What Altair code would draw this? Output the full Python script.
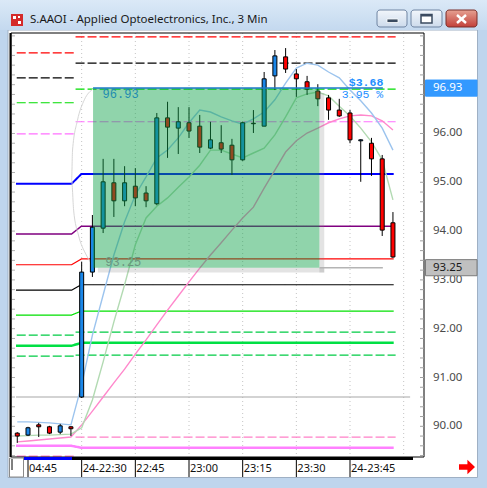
import altair as alt
import pandas as pd

# ---------------- price bars (3-minute, bar index 0..35) ----------------
bar_open = [89.86, 89.82, 90.03, 89.99, 89.88, 89.99,
            90.60, 93.16, 94.06, 94.99, 94.62, 94.92, 94.78, 94.56, 96.32, 96.11,
            96.22, 96.15, 95.70, 95.81, 95.76, 95.46, 96.21, 96.15, 97.18, 97.57,
            97.22, 97.06, 96.87, 96.73, 96.48, 96.42, 95.85, 95.80, 95.48, 94.17]
bar_high = [89.88, 89.99, 90.07, 90.01, 90.05, 90.00,
            93.37, 94.33, 95.48, 95.48, 95.33, 95.29, 94.92, 96.42, 96.65, 96.54,
            96.54, 96.38, 96.24, 96.17, 95.89, 96.24, 96.48, 97.26, 97.71, 97.75,
            97.32, 97.18, 97.01, 96.79, 96.71, 96.48, 95.88, 95.91, 95.56, 94.39]
bar_low = [89.66, 89.80, 89.78, 89.84, 89.84, 89.80,
           90.58, 93.06, 93.96, 94.29, 94.51, 94.51, 94.49, 94.53, 95.50, 95.58,
           95.91, 95.60, 95.68, 95.60, 95.15, 95.44, 96.01, 96.15, 96.89, 97.24,
           96.75, 96.79, 96.56, 96.28, 96.34, 95.80, 95.01, 95.13, 93.90, 93.45]
bar_close = [89.80, 89.97, 89.99, 89.86, 90.01, 89.95,
             93.16, 94.08, 95.01, 94.62, 94.99, 94.68, 94.62, 96.32, 96.13, 96.24,
             96.05, 95.72, 95.87, 95.68, 95.46, 96.22, 96.20, 97.12, 97.59, 97.32,
             97.12, 96.91, 96.71, 96.48, 96.36, 95.87, 95.87, 95.48, 94.02, 93.47]

# moving averages
ma_fast = [90.09, 90.09, 90.08, 90.07, 90.05, 90.03,
           90.85, 91.87, 92.69, 93.51, 94.19, 94.74, 95.11, 95.50, 95.66, 95.91,
           96.22, 96.48, 96.44, 96.34, 96.26, 96.19, 96.30, 96.44, 96.69, 97.03,
           97.34, 97.44, 97.40, 97.26, 97.14, 96.89, 96.67, 96.42, 96.11, 95.66]
ma_mid = [89.80, 89.81, 89.82, 89.82, 89.83, 89.84,
          89.97, 90.54, 91.32, 92.14, 92.90, 93.72, 94.27, 94.51, 94.68, 94.90,
          95.11, 95.35, 95.66, 95.66, 95.58, 95.50, 95.60, 95.70, 95.97, 96.34,
          96.73, 96.81, 96.85, 96.77, 96.56, 96.36, 96.11, 95.83, 95.46, 94.64]
ma_slow = [89.68, 89.70, 89.72, 89.74, 89.76, 89.78,
           90.03, 90.31, 90.60, 90.89, 91.17, 91.48, 91.77, 92.08, 92.38, 92.67,
           92.96, 93.24, 93.51, 93.76, 94.02, 94.27, 94.49, 94.88, 95.25, 95.62,
           95.85, 96.01, 96.11, 96.22, 96.30, 96.36, 96.38, 96.36, 96.26, 96.07]

# curved guide left of the measured range
arc_x = [7.06, 6.25, 5.61, 5.15, 5.06, 5.25, 5.70, 6.43, 7.25]
arc_p = [96.91, 96.69, 96.27, 95.66, 95.05, 94.43, 93.92, 93.51, 93.24]

# level lines: previous-session value, current-session value
level_name = ["red_d", "black_d", "green_d", "magenta_d", "blue", "purple", "red",
              "black", "lime", "green_d2", "green_thick", "green_d3", "gray",
              "pink_d", "magenta_thick"]
level_prev = [97.65, 97.14, 96.63, 95.99, 94.97, 93.94, 93.31,
              92.79, 92.28, 91.87, 91.65, 91.44, 90.60, 89.39, 89.60]
level_curr = [97.98, 97.44, 96.91, 96.24, 95.17, 94.10, 93.43,
              92.90, 92.36, 91.93, 91.71, 91.46, 90.60, 89.78, 89.56]
level_color = ["#ff0000", "#000000", "#00dd00", "#ff70ff", "#0000ff", "#800080", "#ff0000",
               "#000000", "#00e000", "#00cc44", "#00e044", "#00cc44", "#a8a8a8",
               "#ff80c8", "#ff80ff"]
level_width = [1.2, 1.2, 1.2, 1.2, 2.0, 1.5, 1.2, 1.2, 1.2, 1.2, 2.5, 1.2, 1.2, 1.2, 2.5]
level_style = ["dash", "dash", "dash", "dash", "solid", "solid", "solid",
               "solid", "solid", "dash", "solid", "dash", "flat", "dash", "solid"]

# measured range
range_top, range_bottom = 96.93, 93.25
range_from, range_to = 7.06, 28.15
range_line_end = 34.06

# axes
time_idx = [1, 6, 11, 16, 21, 26, 31]
time_text = ["04:45", "24-22:30", "22:45", "23:00", "23:15", "23:30", "24-23:45"]
grid_idx = [6, 11, 16, 21, 26, 31, 36]
price_ticks = [90, 91, 92, 93, 94, 95, 96]

TITLE = "S.AAOI - Applied Optoelectronics, Inc., 3 Min"
UP, DOWN = "#1a86e8", "#ff0000"
FONT = "Noto Sans"
MONO = "Liberation Mono"

# ---------------- geometry helpers ----------------
PX0, PY0 = 11, 33          # plot origin on the page
W, H = 413, 424
X = alt.Scale(domain=[-0.118, 37.427], nice=False, zero=False)
Y = alt.Scale(domain=[89.371, 98.059], nice=False, zero=False)
one = pd.DataFrame({"k": [0]})


def box(x0, y0, x1, y1, **kw):
    return alt.Chart(one).mark_rect(**kw).encode(
        x=alt.value(x0 - PX0), x2=alt.value(x1 - PX0),
        y=alt.value(y0 - PY0), y2=alt.value(y1 - PY0))


def seg(x0, y0, x1, y1, **kw):
    return alt.Chart(one).mark_rule(**kw).encode(
        x=alt.value(x0 - PX0), x2=alt.value(x1 - PX0),
        y=alt.value(y0 - PY0), y2=alt.value(y1 - PY0))


def label(x, y, s, **kw):
    return alt.Chart(one).mark_text(text=s, **kw).encode(
        x=alt.value(x - PX0), y=alt.value(y - PY0))


def price_text(xi, p, s, **kw):
    """Text anchored at a bar position and a price."""
    d = pd.DataFrame({"x": [xi], "p": [p], "t": [s]})
    return alt.Chart(d).mark_text(baseline="middle", **kw).encode(
        x=alt.X("x:Q", scale=X, axis=None), y=alt.Y("p:Q", scale=Y, axis=None), text="t:N")


def price_tag(p, fill, stroke, txt_color):
    d = pd.DataFrame({"lo": [p - 0.165], "hi": [p + 0.165], "p": [p], "t": [f"{p:.2f}"]})
    tag = alt.Chart(d).mark_rect(fill=fill, stroke=stroke, strokeWidth=1).encode(
        x=alt.value(425.5 - PX0), x2=alt.value(477 - PX0),
        y=alt.Y("lo:Q", scale=Y, axis=None), y2="hi:Q")
    txt = alt.Chart(d).mark_text(font=FONT, fontSize=11.5, align="left", baseline="middle",
                                 color=txt_color).encode(
        x=alt.value(433 - PX0), y=alt.Y("p:Q", scale=Y, axis=None), text="t:N")
    return [tag, txt]


def grad(c0, c1):
    return alt.LinearGradient(gradient="linear", x1=0, x2=0, y1=0, y2=1,
                              stops=[alt.GradientStop(color=c0, offset=0),
                                     alt.GradientStop(color=c1, offset=1)])


layers = []

# white client area
layers.append(box(8, 30, 477.5, 477.5, fill="white", stroke="#9fb0c4", strokeWidth=1))

# vertical dotted grid
grid_df = pd.DataFrame({"g": grid_idx})
layers.append(alt.Chart(grid_df).mark_rule(color="#c4c4c4", strokeDash=[1, 3]).encode(
    x=alt.X("g:Q", scale=X, axis=None), y=alt.value(0), y2=alt.value(H)))

# level lines
for name, lp, lc, col, wd, st in zip(level_name, level_prev, level_curr,
                                     level_color, level_width, level_style):
    if st == "solid":
        rows = [(0, -0.118, lp), (0, 5.06, lp), (0, 5.97, lc), (0, 35.07, lc)]
        dash = [1, 0]
    elif st == "dash":
        rows = [(0, -0.05, lp), (0, 5.34, lp), (1, 5.43, lc), (1, 35.25, lc)]
        dash = [9, 3]
    else:
        rows = [(0, -0.118, lp), (0, 36.6, lc)]
        dash = [1, 0]
    d = pd.DataFrame(rows, columns=["seg", "x", "p"])
    layers.append(alt.Chart(d).mark_line(color=col, strokeWidth=wd, strokeDash=dash).encode(
        x=alt.X("x:Q", scale=X, axis=None),
        y=alt.Y("p:Q", scale=Y, axis=None),
        detail="seg:N"))

# curved guide
arc_df = pd.DataFrame({"x": arc_x, "p": arc_p, "o": list(range(len(arc_x)))})
layers.append(alt.Chart(arc_df).mark_line(color="#d6d6d6", strokeWidth=1, interpolate="monotone").encode(
    x=alt.X("x:Q", scale=X, axis=None), y=alt.Y("p:Q", scale=Y, axis=None), order="o:Q"))

# moving averages
idx = list(range(len(bar_open)))
for vals, col in [(ma_slow, "#ff88cc"), (ma_mid, "#b2dab2"), (ma_fast, "#9cc4ee")]:
    d = pd.DataFrame({"i": idx, "p": vals})
    layers.append(alt.Chart(d).mark_line(color=col, strokeWidth=1.4).encode(
        x=alt.X("i:Q", scale=X, axis=None), y=alt.Y("p:Q", scale=Y, axis=None)))

# candles
bars = pd.DataFrame({"i": idx, "o": bar_open, "h": bar_high, "l": bar_low, "c": bar_close})
layers.append(alt.Chart(bars).mark_rule(color="black", strokeWidth=1).encode(
    x=alt.X("i:Q", scale=X, axis=None), y=alt.Y("l:Q", scale=Y, axis=None), y2="h:Q"))
layers.append(alt.Chart(bars).mark_bar(size=4, stroke="black", strokeWidth=1).encode(
    x=alt.X("i:Q", scale=X, axis=None), y=alt.Y("o:Q", scale=Y, axis=None), y2="c:Q",
    fill=alt.condition("datum.c >= datum.o", alt.value(UP), alt.value(DOWN))))

# measured range: soft shadow, translucent fill, edge lines and labels
shadow = pd.DataFrame({"x0": [range_to, range_from + 0.45], "x1": [range_to + 0.45, range_to + 0.45],
                       "y0": [range_bottom - 0.1, range_bottom - 0.1],
                       "y1": [range_top - 0.1, range_bottom]})
layers.append(alt.Chart(shadow).mark_rect(color="#808080", opacity=0.22).encode(
    x=alt.X("x0:Q", scale=X, axis=None), x2="x1:Q",
    y=alt.Y("y0:Q", scale=Y, axis=None), y2="y1:Q"))
rng = pd.DataFrame({"x0": [range_from], "x1": [range_to], "y0": [range_bottom], "y1": [range_top]})
layers.append(alt.Chart(rng).mark_rect(color="#0da148", opacity=0.46).encode(
    x=alt.X("x0:Q", scale=X, axis=None), x2="x1:Q",
    y=alt.Y("y0:Q", scale=Y, axis=None), y2="y1:Q"))
for x0, p, col in [(range_from, range_top, "#1e7ac8"), (range_to, range_bottom, "#b4b4b4")]:
    d = pd.DataFrame({"x0": [x0], "x1": [range_line_end], "p": [p]})
    layers.append(alt.Chart(d).mark_rule(strokeWidth=1.5, color=col).encode(
        x=alt.X("x0:Q", scale=X, axis=None), x2="x1:Q", y=alt.Y("p:Q", scale=Y, axis=None)))

diff = range_top - range_bottom
pct = diff / range_bottom * 100
layers.append(price_text(7.95, range_top - 0.12, f"{range_top:.2f}",
                         font=MONO, fontSize=12, align="left", color="#1f8cb0"))
layers.append(price_text(8.2, range_bottom + 0.12, f"{range_bottom:.2f}",
                         font=MONO, fontSize=12, align="left", color="#6b9580"))
layers.append(price_text(34.1, range_top + 0.1, f"${diff:.2f}",
                         font=MONO, fontSize=11.5, fontWeight="bold", align="right", color="#1e90ff"))
layers.append(price_text(34.1, range_top - 0.14, f"{pct:.2f} %",
                         font=MONO, fontSize=11.5, align="right", color="#1e90ff"))

# plot frame and small ticks along both price edges
layers.append(box(PX0, PY0, PX0 + W, PY0 + H, fill=None, stroke="black", strokeWidth=1, filled=False))
layers.append(seg(10.5, PY0, 10.5, PY0 + H, color="black", strokeWidth=2))
layers.append(seg(24, 458.5, 72, 458.5, color="#0000ff", strokeWidth=3))
layers.append(seg(72, 458.5, 413, 458.5, color="black", strokeWidth=3))
minor = pd.DataFrame({"p": [89.4 + 0.2 * k for k in range(44)]})
layers.append(alt.Chart(minor).mark_rule(color="#a0a0a0").encode(
    x=alt.value(W - 4), x2=alt.value(W), y=alt.Y("p:Q", scale=Y, axis=None)))
layers.append(alt.Chart(minor).mark_rule(color="#b0b0b0").encode(
    x=alt.value(1), x2=alt.value(4), y=alt.Y("p:Q", scale=Y, axis=None)))

# price labels on the right
ptk = pd.DataFrame({"p": price_ticks, "t": [f"{v:.2f}" for v in price_ticks]})
layers.append(alt.Chart(ptk).mark_text(font=FONT, fontSize=11.5, align="left", baseline="middle",
                                       color="#4a4a4a").encode(
    x=alt.value(433 - PX0), y=alt.Y("p:Q", scale=Y, axis=None), text="t:N"))

# highlighted price tags for the range edges
layers += price_tag(range_top, "#3399ff", "#3399ff", "white")
layers += price_tag(range_bottom, "#c0c0c0", "#7a7a7a", "#1a1a1a")

# time axis below the plot
tdf = pd.DataFrame({"i": time_idx, "t": time_text})
layers.append(alt.Chart(tdf).mark_rule(color="black").encode(
    x=alt.X("i:Q", scale=X, axis=None), y=alt.value(460 - PY0), y2=alt.value(477 - PY0)))
layers.append(alt.Chart(tdf).mark_text(font=FONT, fontSize=11, align="left", baseline="middle",
                                       dx=1, color="#101010").encode(
    x=alt.X("i:Q", scale=X, axis=None), y=alt.value(469 - PY0), text="t:N"))
layers.append(box(9.5, 458, 23.5, 477, fill="white", stroke="#8a8a8a", strokeWidth=1))
layers.append(seg(12, 459, 12, 470, color="black", strokeWidth=1))
layers.append(alt.Chart(one).mark_point(
    shape="M-1,-0.35L0.05,-0.35L0.05,-0.9L1,0L0.05,0.9L0.05,0.35L-1,0.35Z",
    size=256, filled=True, fill="#ff0000", stroke=None, opacity=1).encode(
    x=alt.value(467 - PX0), y=alt.value(467 - PY0)))

# window title bar
layers.append(box(0, 0, 487, 30, fill=grad("#dbe9f7", "#c4d9ef")))
layers.append(box(11, 14, 23, 26, fill="#d42a2a"))
layers.append(box(13, 16, 16, 19, fill="white"))
layers.append(box(18, 21, 21, 24, fill="white"))
layers.append(box(18, 16, 20, 18, fill="white"))
layers.append(label(30, 20, TITLE, font=FONT, fontSize=11.5, align="left", baseline="middle", color="#1a1a1a"))
layers.append(box(377, 10, 407, 27, fill=grad("#f2f6fb", "#cddbec"), stroke="#6f84a2",
                  strokeWidth=1, cornerRadius=3))
layers.append(box(411, 10, 442, 27, fill=grad("#f2f6fb", "#cddbec"), stroke="#6f84a2",
                  strokeWidth=1, cornerRadius=3))
layers.append(box(446, 10, 477, 27, fill=grad("#e6a192", "#c2403a"), stroke="#7b2e2a",
                  strokeWidth=1, cornerRadius=3))
layers.append(box(387, 19, 398, 22.5, fill="#3b4b60", stroke="white", strokeWidth=0.8))
layers.append(box(421, 14.5, 432, 23, fill="white", stroke="#3b4b60", strokeWidth=1.5))
layers.append(seg(421, 15.5, 432, 15.5, color="#3b4b60", strokeWidth=2))
layers.append(seg(457, 15, 466, 23, color="white", strokeWidth=2.5))
layers.append(seg(466, 15, 457, 23, color="white", strokeWidth=2.5))

chart = alt.layer(*layers).properties(
    width=W, height=H,
    autosize=alt.AutoSizeParams(type="none"),
    padding={"left": PX0, "top": PY0, "right": 487 - PX0 - W, "bottom": 488 - PY0 - H},
).configure(background="#bfd5ed").configure_view(strokeWidth=0)

chart.save("out.html", embed_options={"renderer": "svg", "actions": False})
